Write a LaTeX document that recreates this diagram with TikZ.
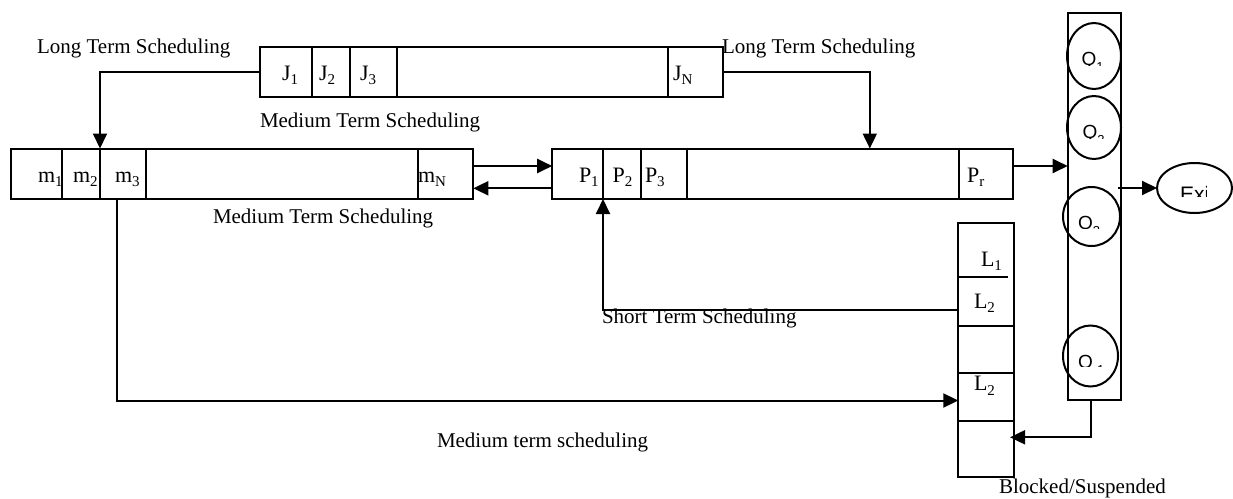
\documentclass[tikz,border=0pt]{standalone}
\usepackage{fontspec}
\setmainfont{Liberation Serif}
\newfontfamily\qfont{Liberation Sans}
\usetikzlibrary{arrows.meta,shapes.geometric}

% lowered, smaller index for the queue entries
\newcommand{\sbs}[1]{\raisebox{-0.22em}{\fontsize{15}{15}\selectfont #1}}
% index used inside the processor rings
\newcommand{\qsub}[1]{\raisebox{-0.3em}{\fontsize{13}{13}\selectfont #1}}
% one cell of a queue: name, left, top, right, bottom
\newcommand{\cellnode}[5]{\node[cellbox, minimum width={#4-#2}, minimum height={#5-#3}] (#1) at (#2,#3) {};}

\begin{document}
\begin{tikzpicture}[x=1pt,y=-1pt,
  line width=2pt,
  cellbox/.style={draw, rectangle, inner sep=0pt, outer sep=0pt, anchor=north west},
  lbl/.style={inner sep=0pt, outer sep=0pt, anchor=base west, font=\fontsize{22}{26}\selectfont},
  caption/.style={inner sep=0pt, outer sep=0pt, anchor=base west, font=\fontsize{21}{25}\selectfont},
  qlbl/.style={inner sep=0pt, outer sep=0pt, anchor=base west, font=\qfont\fontsize{19}{21}\selectfont},
  ring/.style={draw, ellipse, inner sep=0pt, outer sep=0pt},
  arr/.style={-{Triangle[length=15pt,width=14pt]}}
]
\fill[white] (0,0) rectangle (1233,498);
\useasboundingbox (0,0) rectangle (1233,498);

% job pool
\cellnode{J1}{260}{47}{311.7}{97}
\cellnode{J2}{311.7}{47}{350}{97}
\cellnode{J3}{350}{47}{396.7}{97}
\cellnode{Jgap}{396.7}{47}{668.3}{97}
\cellnode{JN}{668.3}{47}{723.3}{97}
\node[lbl] (tJ1) at (282,80) {J\sbs{1}};
\node[lbl] (tJ2) at (319,80) {J\sbs{2}};
\node[lbl] (tJ3) at (360,80) {J\sbs{3}};
\node[lbl] (tJN) at (673,80) {J\sbs{N}};

% swapped-out (medium term) queue
\cellnode{m1}{11}{148.5}{61.7}{199}
\cellnode{m2}{61.7}{148.5}{100}{199}
\cellnode{m3}{100}{148.5}{146}{199}
\cellnode{mgap}{146}{148.5}{417.7}{199}
\cellnode{mN}{417.7}{148.5}{473.3}{199}
\node[lbl] (tm1) at (38,182) {m\sbs{1}};
\node[lbl] (tm2) at (73,182) {m\sbs{2}};
\node[lbl] (tm3) at (115,182) {m\sbs{3}};
\node[lbl] (tmN) at (418,182) {m\sbs{N}};

% ready queue
\cellnode{P1}{552.2}{148.5}{603}{199}
\cellnode{P2}{603}{148.5}{640.6}{199}
\cellnode{P3}{640.6}{148.5}{687.3}{199}
\cellnode{Pgap}{687.3}{148.5}{959}{199}
\cellnode{Pr}{959}{148.5}{1013.3}{199}
\node[lbl] (tP1) at (579,182) {P\sbs{1}};
\node[lbl] (tP2) at (612.6,182) {P\sbs{2}};
\node[lbl] (tP3) at (645,182) {P\sbs{3}};
\node[lbl] (tPr) at (967,182) {P\sbs{r}};

% blocked / suspended list
\cellnode{Lc1}{958.3}{222.7}{1014.3}{325.7}
\cellnode{Lc2}{958.3}{325.7}{1014.3}{372.7}
\cellnode{Lc3}{958.3}{372.7}{1014.3}{420.7}
\cellnode{Lc4}{958.3}{420.7}{1014.3}{476.7}
\draw (Lc1.west |- 0,276.7) -- ++(50,0);
\node[lbl] (tL1) at (981,266) {L\sbs{1}};
\node[lbl] (tL2) at (974,308) {L\sbs{2}};
\node[lbl] (tL2b) at (974,390.7) {L\sbs{2}};

% processors
\cellnode{Qcol}{1067.7}{13.3}{1121}{400}
\node[ring, minimum width=54, minimum height=66] (Q1) at (1094,56) {};
\node[ring, minimum width=54, minimum height=63] (Q2) at (1094,127.5) {};
\node[ring, minimum width=57, minimum height=59] (Q3) at (1091.5,216.5) {};
\node[ring, minimum width=55, minimum height=61] (Qr) at (1090.5,356) {};
\node[ring, minimum width=75, minimum height=50] (Exit) at (1194.5,188) {};

\begin{scope}
  \clip (1068,40) rectangle (1120,65);
  \node[qlbl] (tQ1) at (1081.7,65.3) {Q\qsub{1}};
\end{scope}
\begin{scope}
  \clip (1068,112) rectangle (1120,138.3);
  \node[qlbl] (tQ2) at (1082.7,138.6) {Q\qsub{2}};
\end{scope}
\begin{scope}
  \clip (1064,205) rectangle (1120,228.5);
  \node[qlbl] (tQ3) at (1078,229.8) {Q\qsub{3}};
\end{scope}
\begin{scope}
  \clip (1064,343) rectangle (1118,366.7);
  \node[qlbl] (tQr) at (1078,368.6) {Q\qsub{r1}};
\end{scope}
\begin{scope}
  \clip (1160,175) rectangle (1206,196);
  \node[qlbl, font=\qfont\fontsize{21}{23}\selectfont] (tExit) at (1180,201.7) {Exit};
\end{scope}

% captions
\node[caption] (ltsL) at (37,53) {Long Term Scheduling};
\node[caption] (ltsR) at (722,53) {Long Term Scheduling};
\node[caption] (mtsTop) at (260,127) {Medium Term Scheduling};
\node[caption] (mtsMid) at (213,223) {Medium Term Scheduling};
\node[caption] (sts) at (602,323) {Short Term Scheduling};
\node[caption] (mtsLow) at (437,447) {Medium term scheduling};
\node[caption] (blk) at (999,493) {Blocked/Suspended};

% connectors
\coordinate (ltsDrop) at (869.8,148.5);
\coordinate (blkIn) at (1010,437.3);
\draw[arr] (J1.west) -| (m3.north west);
\draw[arr] (JN.east) -| (ltsDrop);
\draw[arr] (mN.east |- 0,166) -- (P1.west |- 0,166);
\draw[arr] (P1.west |- 0,188.3) -- (mN.east |- 0,188.3);
\draw[arr] (Pr.east |- 0,166) -- (Qcol.west |- 0,166);
\draw[arr] (Lc1.west |- 0,309.5) -| (P1.south east);
\draw[arr] (m3.south -| 117.3,0) |- (Lc3.west |- 0,400.5);
\draw[arr] (Qcol.south -| 1091,0) |- (blkIn);
\draw[arr] ([xshift=-3pt]Qcol.east |- Exit.west) -- (Exit.west);
\end{tikzpicture}
\end{document}
